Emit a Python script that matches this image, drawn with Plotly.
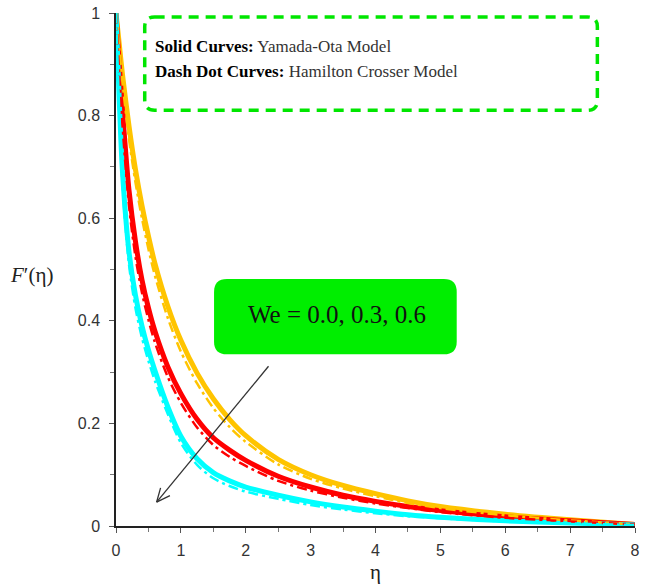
import plotly.graph_objects as go
import numpy as np

# eta grid and F'(eta) readings for We = 0.0, 0.3, 0.6
eta = [0, 0.05, 0.1, 0.2, 0.3, 0.4, 0.5, 0.6, 0.8, 1.0, 1.25, 1.5, 1.75,
       2.0, 2.5, 3.0, 3.5, 4.0, 4.5, 5.0, 6.0, 7.0, 8.0]

# solid curves: Yamada-Ota model
yo_we00 = [1.0, 0.94, 0.88, 0.78, 0.695, 0.625, 0.565, 0.512, 0.428, 0.362, 0.298, 0.248, 0.208,
           0.176, 0.130, 0.100, 0.079, 0.063, 0.049, 0.038, 0.023, 0.012, 0.003]
yo_we03 = [1.0, 0.90, 0.81, 0.655, 0.555, 0.48, 0.425, 0.38, 0.31, 0.258, 0.208, 0.172, 0.148,
           0.128, 0.097, 0.076, 0.060, 0.048, 0.038, 0.030, 0.018, 0.010, 0.003]
yo_we06 = [1.0, 0.83, 0.69, 0.535, 0.45, 0.39, 0.343, 0.303, 0.232, 0.175, 0.131, 0.104, 0.088,
           0.076, 0.060, 0.047, 0.037, 0.029, 0.022, 0.017, 0.010, 0.006, 0.002]

# dash dot curves: Hamilton Crosser model
hc_we00 = [1.0, 0.93, 0.865, 0.755, 0.67, 0.60, 0.54, 0.488, 0.405, 0.34, 0.278, 0.23, 0.193,
           0.164, 0.120, 0.092, 0.073, 0.058, 0.045, 0.035, 0.021, 0.011, 0.003]
hc_we03 = [1.0, 0.88, 0.78, 0.625, 0.525, 0.455, 0.402, 0.358, 0.29, 0.24, 0.192, 0.158, 0.135,
           0.117, 0.088, 0.069, 0.055, 0.044, 0.035, 0.027, 0.016, 0.009, 0.003]
hc_we06 = [1.0, 0.81, 0.665, 0.51, 0.425, 0.367, 0.322, 0.283, 0.218, 0.162, 0.119, 0.093, 0.078,
           0.067, 0.053, 0.041, 0.032, 0.025, 0.019, 0.015, 0.009, 0.005, 0.002]

colors = ['#FFC400', '#FF0000', '#00FFFF']
solid = [yo_we00, yo_we03, yo_we06]
dashdot = [hc_we00, hc_we03, hc_we06]

W, H = 645, 588
L, R, T, B = 116, 5, 9, 62
pw = W - L - R
ph = H - T - B


def to_paper(x, y):
    return (x - L) / pw, (H - B - y) / ph


def to_data(x, y):
    return (x - L) / pw * 8, (H - B - y) / ph


def rounded_box(x0, y0, x1, y1, r):
    pts = [('M', [(x0 + r, y0)]), ('L', [(x1 - r, y0)]), ('Q', [(x1, y0), (x1, y0 + r)]),
           ('L', [(x1, y1 - r)]), ('Q', [(x1, y1), (x1 - r, y1)]), ('L', [(x0 + r, y1)]),
           ('Q', [(x0, y1), (x0, y1 - r)]), ('L', [(x0, y0 + r)]), ('Q', [(x0, y0), (x0 + r, y0)])]
    s = ''
    for cmd, pp in pts:
        s += cmd + ' ' + ' '.join('%.5f,%.5f' % to_paper(px, py) for px, py in pp) + ' '
    return s + 'Z'


fig = go.Figure()
for c, yv in zip(colors, solid):
    fig.add_trace(go.Scatter(x=eta, y=yv, mode='lines', line=dict(color=c, width=5, shape='spline', smoothing=0.8),
                             showlegend=False))
for c, yv in zip(colors, dashdot):
    fig.add_trace(go.Scatter(x=eta, y=yv, mode='lines',
                             line=dict(color=c, width=2.5, dash='10px,4px,3px,4px', shape='spline', smoothing=0.8),
                             showlegend=False))

shapes = [
    dict(type='path', xref='paper', yref='paper', path=rounded_box(145, 13, 602, 107, 10),
         line=dict(color='#00E600', width=3.5, dash='10px,7px')),
    dict(type='path', xref='paper', yref='paper', path=rounded_box(215, 277, 460, 353, 13),
         fillcolor='#00EE00', line=dict(width=0)),
]

# arrow with open head
sx, sy = 270, 365
tx, ty = 157, 502
u = np.array([sx - tx, sy - ty], dtype=float)
u /= np.linalg.norm(u)
x0d, y0d = to_data(sx, sy)
x1d, y1d = to_data(tx, ty)
shapes.append(dict(type='line', x0=x0d, y0=y0d, x1=x1d, y1=y1d, line=dict(color='#333333', width=1.3)))
for a in (np.radians(24), -np.radians(24)):
    rot = np.array([[np.cos(a), -np.sin(a)], [np.sin(a), np.cos(a)]]) @ u
    hx, hy = to_data(tx + 15 * rot[0], ty + 15 * rot[1])
    shapes.append(dict(type='line', x0=x1d, y0=y1d, x1=hx, y1=hy, line=dict(color='#333333', width=1.3)))

serif = 'Liberation Serif'
ann = []
px_, py_ = to_paper(153, 43)
ann.append(dict(xref='paper', yref='paper', x=px_, y=py_, xanchor='left', yanchor='middle', showarrow=False,
                text='<b>Solid Curves:</b><span style="color:#333333"> Yamada-Ota Model</span>',
                font=dict(family=serif, size=17, color='black')))
px_, py_ = to_paper(153, 68)
ann.append(dict(xref='paper', yref='paper', x=px_, y=py_, xanchor='left', yanchor='middle', showarrow=False,
                text='<b>Dash Dot Curves:</b><span style="color:#333333"> Hamilton Crosser Model</span>',
                font=dict(family=serif, size=17, color='black')))
px_, py_ = to_paper(339, 313)
ann.append(dict(xref='paper', yref='paper', x=px_, y=py_, xanchor='center', yanchor='middle', showarrow=False,
                text='We = 0.0, 0.3, 0.6', font=dict(family=serif, size=25, color='#111111')))
px_, py_ = to_paper(378, 572)
ann.append(dict(xref='paper', yref='paper', x=px_, y=py_, xanchor='center', yanchor='middle', showarrow=False,
                text='η', font=dict(family=serif, size=21, color='#222222')))
px_, py_ = to_paper(31, 273)
ann.append(dict(xref='paper', yref='paper', x=px_, y=py_, xanchor='center', yanchor='middle', showarrow=False,
                text='<i>F</i>′(η)', font=dict(family=serif, size=21, color='#222222')))

tickfont = dict(family='Liberation Sans', size=16, color='#333333')
fig.update_layout(
    width=W, height=H,
    margin=dict(l=L, r=R, t=T, b=B),
    paper_bgcolor='white', plot_bgcolor='white',
    shapes=shapes, annotations=ann,
    xaxis=dict(range=[0, 8], tickvals=list(range(9)), showgrid=False, zeroline=False,
               showline=True, linecolor='#222222', linewidth=1.5, ticks='outside', ticklen=5,
               tickcolor='#555555', tickfont=tickfont, ticklabelstandoff=4, ticklabeloverflow='allow',
               minor=dict(dtick=0.5, ticks='outside', ticklen=4, tickcolor='#777777')),
    yaxis=dict(range=[0, 1], dtick=0.2, showgrid=False, zeroline=False,
               showline=True, linecolor='#222222', linewidth=1.5, ticks='outside', ticklen=5,
               tickcolor='#555555', tickfont=tickfont, ticklabelstandoff=6, ticklabeloverflow='allow',
               minor=dict(dtick=0.1, ticks='outside', ticklen=4, tickcolor='#777777')),
)

fig.write_html("out.html", config={'displayModeBar': False},
               post_script="document.body.style.margin='0';")
